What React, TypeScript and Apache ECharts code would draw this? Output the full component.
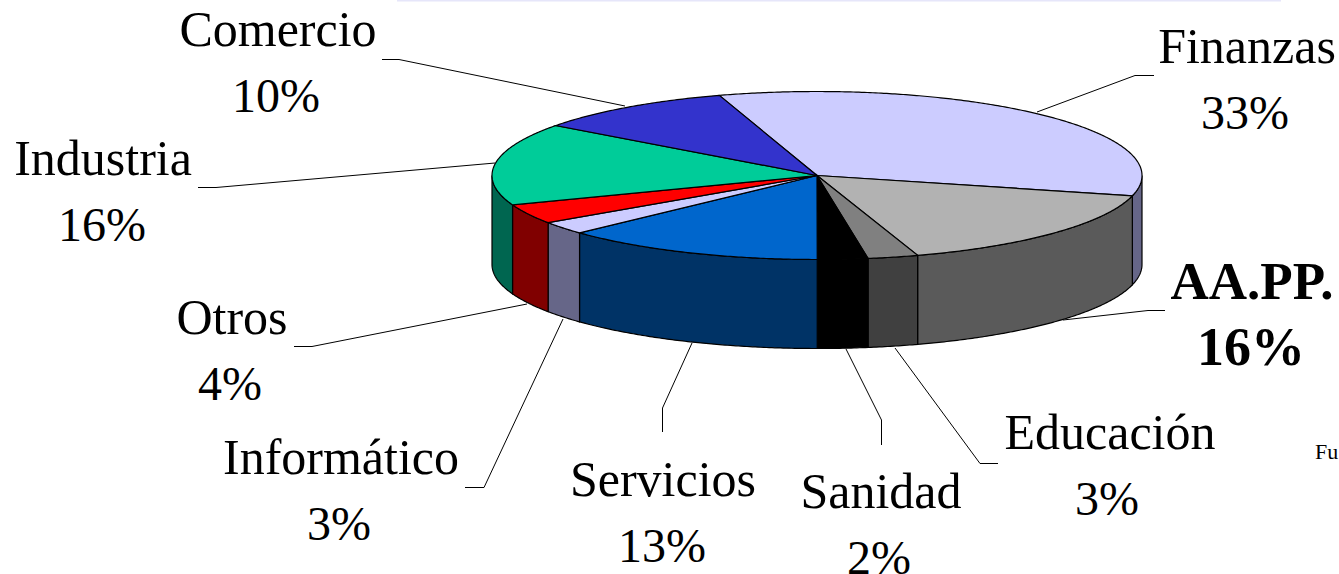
import React, { useEffect, useRef } from "react";
import * as echarts from "echarts";

const categories = ["Finanzas", "AA.PP.", "Educación", "Sanidad", "Servicios", "Informático", "Otros", "Industria", "Comercio"];
const shares = [33.75, 16.1, 2.5, 2.5, 13.05, 2.47, 3.8, 15.83, 10.0];
const percentLabels = ["33%", "16%", "3%", "2%", "13%", "3%", "4%", "16%", "10%"];
const topColors = ["#CCCCFF", "#B2B2B2", "#808080", "#000000", "#0066CC", "#CCCCFF", "#FF0000", "#00CC99", "#3333CC"];
const wallColors = ["#666688", "#5A5A5A", "#404040", "#000000", "#003366", "#666688", "#800000", "#006650", "#1A1A66"];

const cx = 817, cy = 175.5, rx = 325, ry = 84, depth = 89, startDeg = -17.5;

const labelLayout: Record<string, { name: [number, number]; pct: [number, number]; leader: number[][]; bold?: boolean }> = {
  Comercio: { name: [278, 29], pct: [276, 95], leader: [[382, 59.5], [399, 59.5], [625, 106]] },
  Finanzas: { name: [1247, 46], pct: [1245, 112], leader: [[1037, 112], [1135, 75.5], [1154, 75.5]] },
  Industria: { name: [103, 158], pct: [102, 224], leader: [[198, 187.5], [216, 187.5], [495, 163]] },
  Otros: { name: [232, 317], pct: [230, 383], leader: [[294, 346.5], [312, 346.5], [527, 304]] },
  "Informático": { name: [341, 457], pct: [339, 523], leader: [[465, 487.5], [484, 487.5], [563, 319]] },
  Servicios: { name: [663, 479], pct: [662, 545], leader: [[662.5, 432], [662.5, 408], [692, 343]] },
  Sanidad: { name: [881, 491], pct: [879, 557], leader: [[881.5, 445], [881.5, 420], [846, 349]] },
  "Educación": { name: [1110, 432], pct: [1107, 498], leader: [[998, 463.5], [980, 463.5], [895, 348]] },
  "AA.PP.": { name: [1252, 281], pct: [1251, 347], leader: [[1063, 320], [1148, 310.5], [1165, 310.5]], bold: true },
};

const font = "'Liberation Serif', 'Times New Roman', serif";

function pt(deg: number, dy = 0): number[] {
  const a = (deg * Math.PI) / 180;
  return [cx + rx * Math.sin(a), cy - ry * Math.cos(a) + dy];
}

function arc(from: number, to: number, dy = 0): number[][] {
  const n = Math.max(2, Math.ceil(Math.abs(to - from) / 0.5));
  const out: number[][] = [];
  for (let i = 0; i <= n; i++) out.push(pt(from + ((to - from) * i) / n, dy));
  return out;
}

function renderSlice(params: any, api: any) {
  const i = params.dataIndex;
  const total = shares.reduce((s, v) => s + v, 0);
  const before = shares.slice(0, i).reduce((s, v) => s + v, 0);
  const value = api.value(0);
  const a0 = startDeg + (before / total) * 360;
  const a1 = a0 + (value / total) * 360;
  const children: any[] = [];
  const w0 = Math.max(a0, 90);
  const w1 = Math.min(a1, 270);
  if (w1 > w0) {
    children.push({
      type: "polygon",
      shape: { points: [...arc(w0, w1), ...arc(w1, w0, depth)] },
      style: { fill: wallColors[i], stroke: "#000", lineWidth: 1.2 },
    });
  }
  children.push({
    type: "polygon",
    shape: { points: [[cx, cy], ...arc(a0, a1)] },
    style: { fill: topColors[i], stroke: "#000", lineWidth: 1.2 },
  });
  return { type: "group", children };
}

function textEl(text: string, pos: [number, number], size: number, bold?: boolean) {
  return {
    type: "text",
    x: pos[0],
    y: pos[1],
    z: 5,
    style: {
      text,
      fill: "#000",
      font: `${bold ? "bold " : ""}${size}px ${font}`,
      textAlign: "center",
      textVerticalAlign: "middle",
    },
  };
}

export default function App() {
  const ref = useRef<HTMLDivElement>(null);
  useEffect(() => {
    const chart = echarts.init(ref.current!, null, { renderer: "svg" });
    const graphics: any[] = [
      { type: "rect", shape: { x: 397, y: 0, width: 884, height: 1.5 }, style: { fill: "#E6E6FA" } },
      { type: "text", x: 1315, y: 451, style: { text: "Fu", fill: "#000", font: `22px ${font}`, textAlign: "left", textVerticalAlign: "middle" } },
    ];
    categories.forEach((c, i) => {
      const l = labelLayout[c];
      graphics.push({ type: "polyline", z: 1, shape: { points: l.leader }, style: { stroke: "#000", lineWidth: 1, fill: "none" } });
      graphics.push(textEl(c, l.name, l.bold ? 53 : 50, l.bold));
      graphics.push(textEl(percentLabels[i], l.pct, l.bold ? 54 : 48, l.bold));
    });
    chart.setOption({
      animation: false,
      backgroundColor: "#fff",
      series: [
        {
          type: "custom",
          coordinateSystem: "none",
          z: 3,
          silent: true,
          renderItem: renderSlice,
          data: shares.map((v, i) => ({ name: categories[i], value: [v] })),
        },
      ],
      graphic: { elements: graphics },
    });
    return () => chart.dispose();
  }, []);
  return <div ref={ref} style={{ position: "fixed", left: 0, top: 0, width: 1339, height: 574 }} />;
}
